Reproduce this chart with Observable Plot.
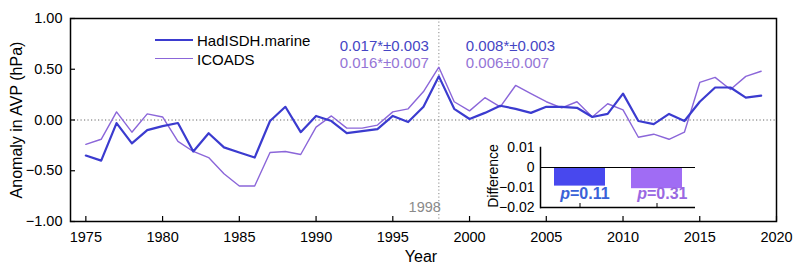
<!DOCTYPE html>
<html><head><meta charset="utf-8">
<script src="https://cdn.jsdelivr.net/npm/d3@7"></script>
<script src="https://cdn.jsdelivr.net/npm/@observablehq/plot@0.6"></script>
<style>
body{margin:0;background:#fff;font-family:"Liberation Sans",Arial,sans-serif;}
#wrap{position:relative;width:800px;height:270px;overflow:hidden;}
#main,#inset{position:absolute;}
#main{left:0;top:0;}
#inset{left:470px;top:138px;}
.lbl{position:absolute;font-size:15px;color:#000;white-space:nowrap;}
.leg{position:absolute;font-size:15px;color:#000;white-space:nowrap;}
.legline{position:absolute;height:0;}
</style></head><body>
<div id="wrap">
  <div id="main"></div>
  <div id="inset"></div>
</div>
<script>
// ---- data ----
const years = [1975,1976,1977,1978,1979,1980,1981,1982,1983,1984,1985,1986,1987,1988,1989,1990,1991,1992,1993,1994,1995,1996,1997,1998,1999,2000,2001,2002,2003,2004,2005,2006,2007,2008,2009,2010,2011,2012,2013,2014,2015,2016,2017,2018,2019];
const hadisdh = [-0.35,-0.40,-0.03,-0.23,-0.10,-0.06,-0.03,-0.31,-0.13,-0.27,-0.32,-0.37,-0.01,0.13,-0.12,0.04,-0.01,-0.13,-0.11,-0.09,0.04,-0.02,0.13,0.43,0.11,0.01,0.07,0.14,0.11,0.07,0.13,0.13,0.12,0.03,0.06,0.26,-0.01,-0.04,0.06,-0.01,0.18,0.32,0.32,0.22,0.24];
const icoads = [-0.24,-0.19,0.08,-0.12,0.06,0.03,-0.21,-0.31,-0.37,-0.53,-0.65,-0.65,-0.32,-0.31,-0.34,-0.07,0.04,-0.08,-0.08,-0.05,0.08,0.11,0.28,0.52,0.18,0.09,0.22,0.13,0.34,0.26,0.18,0.12,0.18,0.03,0.16,0.10,-0.17,-0.14,-0.19,-0.12,0.37,0.42,0.30,0.43,0.48];
const seriesNames = ["HadISDH.marine","ICOADS"];
const seriesColors = ["#3b3bcf","#8b66d9"];
const trendColors = ["#4545c4","#9474d6"];
const xTicks = [1975,1980,1985,1990,1995,2000,2005,2010,2015,2020];
const yTicks = [-1,-0.5,0,0.5,1];
const breakYear = 1998;
const trendsBefore = ["0.017*±0.003","0.016*±0.007"];
const trendsAfter = ["0.008*±0.003","0.006±0.007"];
const diffNames = ["HadISDH.marine","ICOADS"];
const diffValues = [-0.0093,-0.0106];
const diffP = ["=0.11","=0.31"];
const diffColors = ["#4848ee","#a06cf4"];
const diffLabelColors = ["#3a62d8","#9a68e2"];
const diffTicks = [0.01,0,-0.01,-0.02];

// ---- main plot ----
const rows = [];
years.forEach((y,i)=>{
  rows.push({year:y, v:hadisdh[i], s:seriesNames[0]});
  rows.push({year:y, v:icoads[i], s:seriesNames[1]});
});
const W=800,H=270,mL=70,mR=24,mT=18,mB=49;
const fw = W-mL-mR, fh = H-mT-mB;
const font = {fontFamily:"Liberation Sans, Arial, sans-serif", fontSize:"14px", background:"transparent", overflow:"visible"};

const marks = [
  Plot.ruleY([0],{stroke:"#666",strokeDasharray:"1.2,2.3",strokeWidth:1}),
  Plot.ruleX([breakYear],{stroke:"#888",strokeDasharray:"1.2,2.3",strokeWidth:1}),
  Plot.line(rows.filter(d=>d.s===seriesNames[1]),{x:"year",y:"v",stroke:seriesColors[1],strokeWidth:1.4}),
  Plot.line(rows.filter(d=>d.s===seriesNames[0]),{x:"year",y:"v",stroke:seriesColors[0],strokeWidth:2.2}),
  Plot.axisX({ticks:xTicks,tickFormat:"d",tickSize:0,tickPadding:10,label:null,fontSize:14.5}),
  Plot.axisY({ticks:yTicks,tickFormat:".2f",tickSize:0,tickPadding:8,label:null,fontSize:14.5}),
  Plot.tickX(xTicks,{x:d=>d,insetTop:fh-5,stroke:"#000",strokeWidth:1.2}),
  Plot.tickY(yTicks,{y:d=>d,insetRight:fw-5,stroke:"#000",strokeWidth:1.2}),
  Plot.text([breakYear],{x:d=>d,text:d=>String(d),frameAnchor:"bottom",textAnchor:"end",dx:2,dy:-10,fill:"#8a8a8a",fontSize:14.5}),
  Plot.frame({stroke:"#000",strokeWidth:1.5})
];
trendsBefore.forEach((t,i)=>{
  marks.push(Plot.text([t],{x:()=>breakYear,text:d=>d,frameAnchor:"top",textAnchor:"end",dx:-10,dy:22+17*i,fill:trendColors[i],fontSize:15}));
});
trendsAfter.forEach((t,i)=>{
  marks.push(Plot.text([t],{x:()=>breakYear,text:d=>d,frameAnchor:"top",textAnchor:"start",dx:27,dy:22+17*i,fill:trendColors[i],fontSize:15}));
});

const main = Plot.plot({
  width:W,height:H,marginLeft:mL,marginRight:mR,marginTop:mT,marginBottom:mB,
  style:font,
  x:{domain:[1974,2020]},
  y:{domain:[-1,1]},
  marks
});
document.getElementById("main").appendChild(main);

// ---- inset ----
const iW=230,iH=78,iL=70,iR=5,iT=9,iB=9;
const diffRows = diffNames.map((n,i)=>({name:n,value:diffValues[i],p:diffP[i],color:diffColors[i],lc:diffLabelColors[i]}));
const inset = Plot.plot({
  width:iW,height:iH,marginLeft:iL,marginRight:iR,marginTop:iT,marginBottom:iB,
  style:font,
  x:{type:"band",domain:diffNames,paddingInner:0.34,paddingOuter:0.17,axis:null},
  y:{domain:[-0.02,0.01]},
  marks:[
    Plot.barY(diffRows,{x:"name",y:"value",fill:d=>d.color}),
    Plot.ruleY([0],{stroke:"#000",strokeWidth:1}),
    Plot.ruleY([-0.02],{stroke:"#000",strokeWidth:1.5}),
    Plot.frame({anchor:"left",stroke:"#000",strokeWidth:1.5}),
    Plot.tickX(diffNames,{x:d=>d,insetTop:(iH-iT-iB)-4,stroke:"#000"}),
    Plot.axisY({ticks:diffTicks,tickFormat:d=>d===0?"0":d3.format(".2f")(d),tickSize:0,tickPadding:6,label:null,fontSize:14}),
    Plot.text(diffRows,{x:"name",text:()=>"p",frameAnchor:"bottom",dy:-9,dx:-10,textAnchor:"end",fill:d=>d.lc,fontSize:16,fontWeight:"bold",fontStyle:"italic"}),
    Plot.text(diffRows,{x:"name",text:"p",frameAnchor:"bottom",dy:-9,dx:-10,textAnchor:"start",fill:d=>d.lc,fontSize:16,fontWeight:"bold"})
  ]
});
inset.style.background="transparent";
document.getElementById("inset").appendChild(inset);

// ---- titles & legend (HTML) ----
const wrap = document.getElementById("wrap");
function addDiv(cls, text, css){ const d=document.createElement("div"); d.className=cls; d.textContent=text; Object.assign(d.style,css); wrap.appendChild(d); return d; }
addDiv("lbl","Anomaly in AVP (hPa)",{left:"17px",top:"120px",fontSize:"16px",transform:"translate(-50%,-50%) rotate(-90deg)"});
addDiv("lbl","Year",{left:"421px",top:"257px",fontSize:"16px",transform:"translate(-50%,-50%)"});
addDiv("lbl","Difference",{left:"493px",top:"176px",fontSize:"14px",transform:"translate(-50%,-50%) rotate(-90deg)"});
seriesNames.forEach((n,i)=>{
  const y = 40 + 19*i;
  const l = document.createElement("div"); l.className="legline";
  Object.assign(l.style,{left:"155px",top:(y - (i===0?1.1:0.7))+"px",width:"38px",borderTop:(i===0?"2.2px":"1.4px")+" solid "+seriesColors[i]});
  wrap.appendChild(l);
  addDiv("leg",n,{left:"197px",top:y+"px",transform:"translateY(-50%)"});
});
</script>
</body></html>
